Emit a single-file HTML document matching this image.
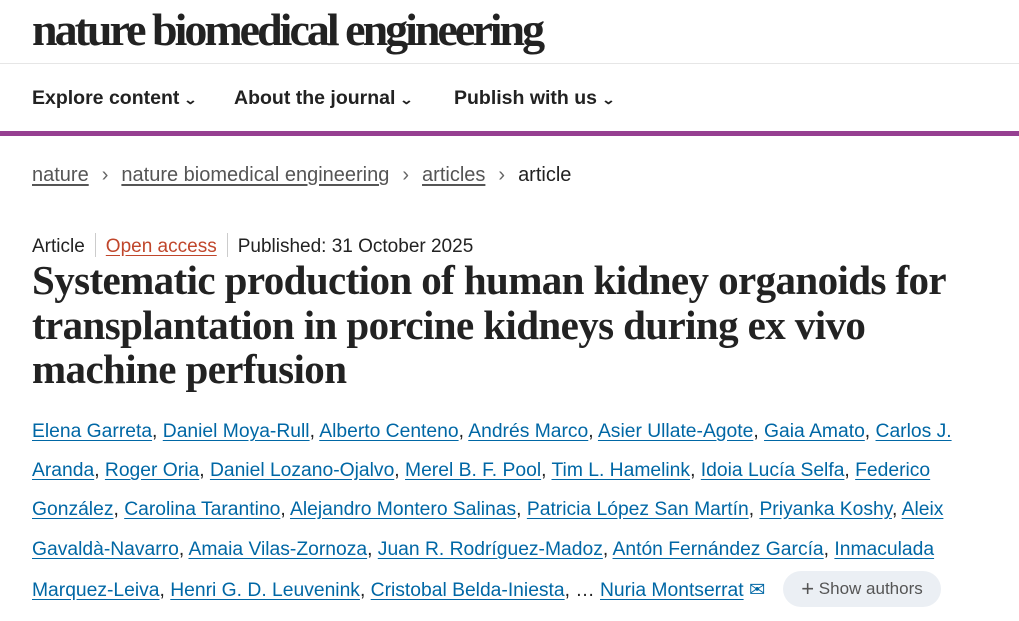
<!DOCTYPE html>
<html><head><meta charset="utf-8"><style>
body{margin:0;width:1019px;height:621px;overflow:hidden;background:#fff;font-family:"Liberation Sans",sans-serif;color:#222;position:relative}
.a{position:absolute;white-space:nowrap}
.logo{left:32px;top:3px;font-family:"Liberation Serif",serif;font-weight:bold;font-size:46px;letter-spacing:-3px;color:#222}
.hr{position:absolute;left:0;width:1019px;top:63px;height:1px;background:#e6e6e6}
.nav{top:87px;font-size:19.5px;font-weight:bold;color:#222}
.nav span.c{font-size:13px;margin-left:6px;display:inline-block;transform:scaleX(1.3)}
.bar{position:absolute;left:0;top:131px;width:1019px;height:5px;background:#963f91}
.bc{top:164px;left:32px;font-size:20px;color:#555}
.bc u{text-decoration:underline;text-underline-offset:3px}
.bc .s{margin:0 13px;color:#666}
.meta{top:233px;left:32px;font-size:19px;color:#222}
.meta .sep{display:inline-block;width:1px;height:24px;background:#ccc;vertical-align:-5px;margin:0 10px}
.meta u{color:#c0462b;text-underline-offset:3px}
.t{left:32px;font-family:"Liberation Serif",serif;font-weight:bold;font-size:41px;letter-spacing:-0.6px;color:#222}
.au{left:32px;font-size:19.3px;color:#222}
.au u{color:#0067a5;text-underline-offset:3px}
.btn{position:absolute;left:783px;top:571px;width:158px;height:36px;border-radius:18px;background:#ebeff4;color:#555;font-size:17px;line-height:36px;text-align:center}
</style></head><body>
<div class="a logo">nature biomedical engineering</div>
<div class="hr"></div>
<div class="a nav" style="left:32px">Explore content<span class="c">&#8964;</span></div>
<div class="a nav" style="left:234px">About the journal<span class="c">&#8964;</span></div>
<div class="a nav" style="left:454px">Publish with us<span class="c">&#8964;</span></div>
<div class="bar"></div>
<div class="a bc"><u>nature</u><span class="s">&#8250;</span><u>nature biomedical engineering</u><span class="s">&#8250;</span><u>articles</u><span class="s">&#8250;</span><span style="color:#222">article</span></div>
<div class="a meta">Article<span class="sep"></span><u>Open access</u><span class="sep"></span>Published: 31 October 2025</div>
<div class="a t" style="top:256px">Systematic production of human kidney organoids for</div>
<div class="a t" style="top:301px">transplantation in porcine kidneys during ex vivo</div>
<div class="a t" style="top:345px">machine perfusion</div>
<div class="a au" style="top:421px"><u>Elena Garreta</u>, <u>Daniel Moya-Rull</u>, <u>Alberto Centeno</u>, <u>Andrés Marco</u>, <u>Asier Ullate-Agote</u>, <u>Gaia Amato</u>, <u>Carlos J.</u></div>
<div class="a au" style="top:460px"><u>Aranda</u>, <u>Roger Oria</u>, <u>Daniel Lozano-Ojalvo</u>, <u>Merel B. F. Pool</u>, <u>Tim L. Hamelink</u>, <u>Idoia Lucía Selfa</u>, <u>Federico</u></div>
<div class="a au" style="top:499px"><u>González</u>, <u>Carolina Tarantino</u>, <u>Alejandro Montero Salinas</u>, <u>Patricia López San Martín</u>, <u>Priyanka Koshy</u>, <u>Aleix</u></div>
<div class="a au" style="top:539px"><u>Gavaldà-Navarro</u>, <u>Amaia Vilas-Zornoza</u>, <u>Juan R. Rodríguez-Madoz</u>, <u>Antón Fernández García</u>, <u>Inmaculada</u></div>
<div class="a au" style="top:578px"><u>Marquez-Leiva</u>, <u>Henri G. D. Leuvenink</u>, <u>Cristobal Belda-Iniesta</u>, … <u>Nuria Montserrat</u> <span style="color:#0067a5">&#9993;</span></div>
<div class="btn"><span style="font-size:22px;vertical-align:-2px">+</span> Show authors</div>
</body></html>
